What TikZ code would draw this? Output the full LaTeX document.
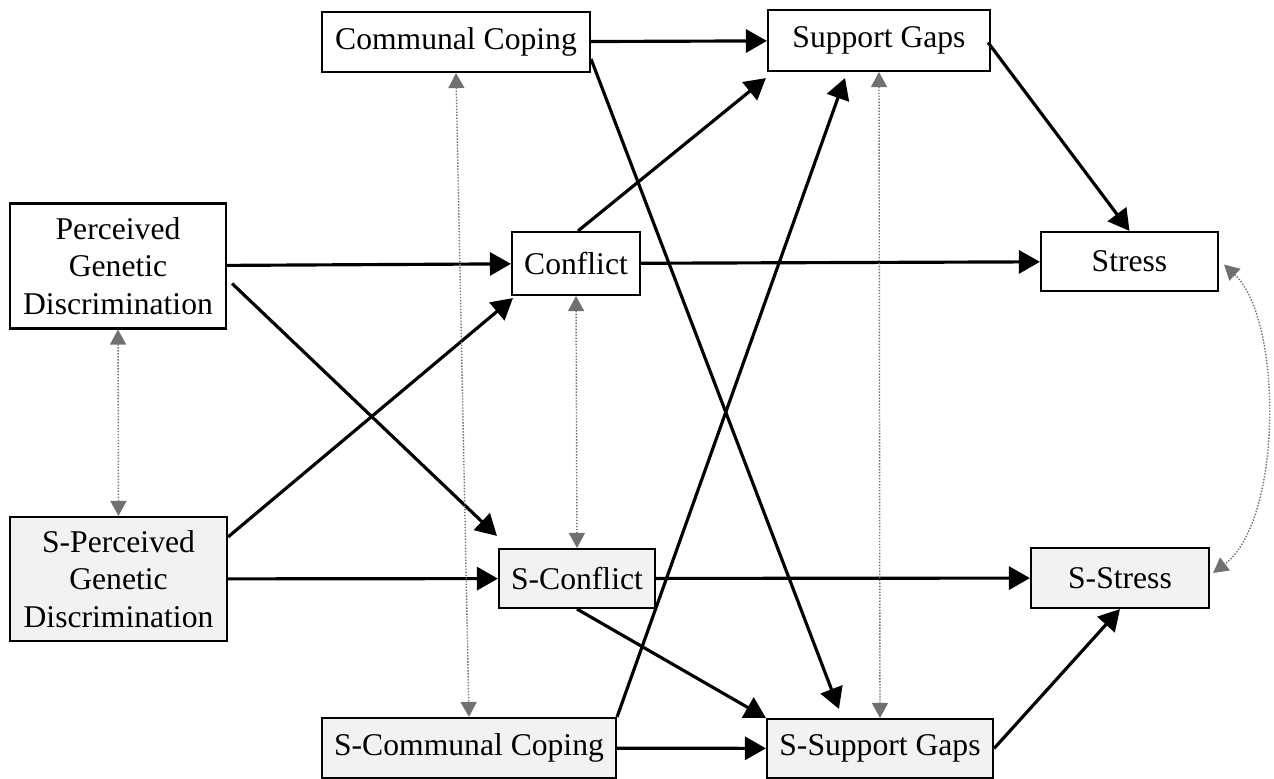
\documentclass[tikz,border=0pt]{standalone}
\usepackage{fontspec}
\setmainfont{Liberation Serif}
\usepackage{tikz}
\usetikzlibrary{calc}
\usetikzlibrary{arrows.meta}

\definecolor{sfill}{HTML}{F2F2F2}
\definecolor{covgray}{HTML}{707070}

\begin{document}
\begin{tikzpicture}[x=0.2mm, y=-0.2mm,
    every node/.style={draw, line width=1.2pt, inner sep=0pt, align=center,
                       font=\fontsize{18}{21.5}\selectfont},
    sbox/.style={fill=sfill},
    effect/.style={line width=1.8pt, -{Triangle[length=4.2mm, width=4.6mm]}},
    cov/.style={covgray, line width=0.8pt, dash pattern=on 0.8pt off 0.9pt,
                {Triangle[length=3mm, width=3.2mm]}-{Triangle[length=3mm, width=3.2mm]}}]
                  \useasboundingbox (0,0) rectangle (1274,779);
                  % actor
                  \node[minimum width=53.6mm, minimum height=12mm] (cc) at (456,42) {Communal Coping};
                  \node[minimum width=43.2mm, minimum height=25mm] (pgd) at (118,266) {Perceived\\Genetic\\Discrimination};
                  \node[minimum width=25.6mm, minimum height=12.6mm] (conf) at (576,263.5) {Conflict};
                  \node[minimum width=44.4mm, minimum height=12.2mm] (sg) at (879,40.5) {Support Gaps};
                  \node[minimum width=35.4mm, minimum height=11.8mm] (str) at (1129.5,261.5) {Stress};
                  % spouse
                  \node[sbox, minimum width=58.8mm, minimum height=12mm] (scc) at (469,748) {S-Communal Coping};
                  \node[sbox, minimum width=43.4mm, minimum height=24.8mm] (spgd) at (118.5,579) {S-Perceived\\Genetic\\Discrimination};
                  \node[sbox, minimum width=31.2mm, minimum height=11.8mm] (sconf) at (577,578.5) {S-Conflict};
                  \node[sbox, minimum width=45.2mm, minimum height=11.8mm] (ssg) at (880,748.5) {S-Support Gaps};
                  \node[sbox, minimum width=35.6mm, minimum height=12mm] (sstr) at (1120,578) {S-Stress};
                  % paths
                  \draw[effect] (cc) -- (sg);
                  \draw[effect] ($(cc.south east)+(0,-14)$) -- ($(ssg.north west)+(73,-9)$);
                  \draw[effect] (pgd) -- (conf);
                  \draw[effect] ($(pgd.east)+(5,17.5)$) -- ($(sconf.north west)+(-1,-12)$);
                  \draw[effect] ($(spgd.north east)+(0,21)$) -- ($(conf.south west)+(2,2)$);
                  \draw[effect] (spgd) -- (sconf);
                  \draw[effect] ($(conf.north)+(2,0)$) -- ($(sg.south west)+(-1,6)$);
                  \draw[effect] (conf) -- (str);
                  \draw[effect] (sconf) -- (sstr);
                  \draw[effect] (sconf.south) -- (ssg.north west);
                  \draw[effect] (scc.north east) -- ($(sg.south)+(-34,6)$);
                  \draw[effect] (scc) -- (ssg);
                  \draw[effect] ($(sg.east)+(-3,2)$) -- (str.north);
                  \draw[effect] (ssg.east) -- (sstr.south);
                  % covariances
                  \draw[cov] (pgd.south) -- (spgd.north);
                  \draw[cov] (cc.south) -- (scc.north);
                  \draw[cov] (conf.south) -- (sconf.north);
                  \draw[cov] (sg.south) -- (ssg.north);
                  \draw[cov] ($(str.east)+(5,3)$) .. controls (1283,320) and (1283,520) .. ($(sstr.east)+(3,-5)$);
              \end{tikzpicture}
\end{document}
